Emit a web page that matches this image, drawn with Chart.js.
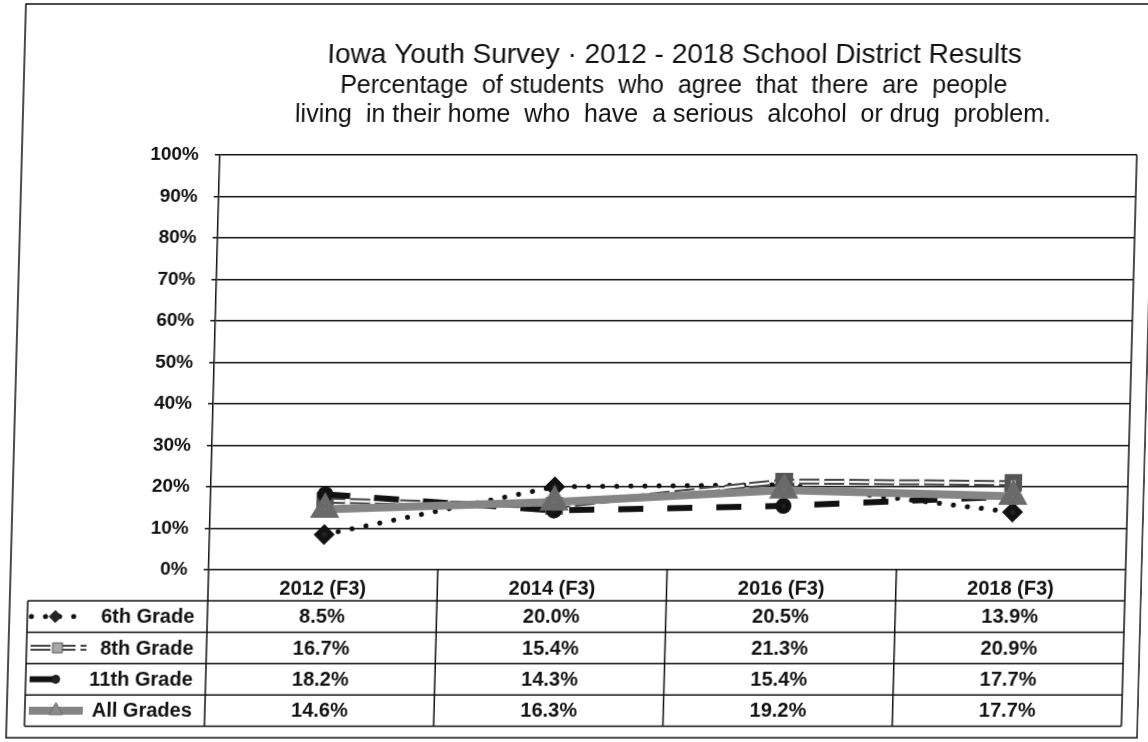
<!DOCTYPE html>
<html lang="en">
<head>
    <meta charset="UTF-8">
    <title>Iowa Youth Survey 2012 - 2018 School District Results</title>
    <script src="https://cdn.jsdelivr.net/npm/chart.js"></script>
    <style>
        html, body { margin: 0; padding: 0; background: #fff; overflow: hidden; }
        /* the scanned original leans a little, so the whole sheet is skewed the same way */
        #hoja { width: 1148px; height: 742px; transform: skewX(-1.55deg); transform-origin: 0 371px; }
    </style>
</head>
<body>
    <div id="hoja"><canvas id="grafico" width="1148" height="742"></canvas></div>

    <script>
        const titleLines = [
            "Iowa Youth Survey \u00b7 2012 - 2018 School District Results",
            "Percentage  of students  who  agree  that  there  are  people",
            "living  in their home  who  have  a serious  alcohol  or drug  problem."
        ];
        const years = ["2012 (F3)", "2014 (F3)", "2016 (F3)", "2018 (F3)"];
        const gradeNames = ["6th Grade", "8th Grade", "11th Grade", "All Grades"];
        const sixth = [8.5, 20.0, 20.5, 13.9];
        const eighth = [16.7, 15.4, 21.3, 20.9];
        const eleventh = [18.2, 14.3, 15.4, 17.7];
        const allGrades = [14.6, 16.3, 19.2, 17.7];

        const fuente = "'Liberation Sans', Arial, sans-serif";
        const tinta = "#111";

        // white stroke inside the 8th grade dashes gives the double line look
        function lineaDoble(ctx, puntos, ds) {
            ctx.save();
            ctx.beginPath();
            puntos.forEach((p, i) => i ? ctx.lineTo(p.x, p.y) : ctx.moveTo(p.x, p.y));
            ctx.setLineDash(ds.borderDash);
            ctx.lineWidth = 2;
            ctx.strokeStyle = "#fff";
            ctx.stroke();
            ctx.restore();
        }

        const tablaDatos = {
            id: "tablaDatos",
            afterDatasetDraw(chart, args) {
                const ds = chart.data.datasets[args.index];
                if (!ds.doble) return;
                const ctx = chart.ctx;
                ctx.save();
                ctx.beginPath();
                ctx.rect(chart.chartArea.left, chart.chartArea.top, chart.chartArea.width, chart.chartArea.height);
                ctx.clip();
                lineaDoble(ctx, args.meta.data, ds);
                ctx.restore();
                args.meta.data.forEach(p => p.draw(ctx, chart.chartArea));
            },
            afterDraw(chart) {
                const ctx = chart.ctx;
                const area = chart.chartArea;
                const x = chart.scales.x;

                // title
                ctx.save();
                ctx.fillStyle = tinta;
                ctx.textAlign = "center";
                ctx.textBaseline = "alphabetic";
                const baselines = [63, 93, 122];
                titleLines.forEach((t, i) => {
                    ctx.font = (i === 0 ? "28px " : "25px ") + fuente;
                    ctx.fillText(t, 666, baselines[i]);
                });

                // outer frame
                ctx.strokeStyle = tinta;
                ctx.lineWidth = 1.5;
                ctx.strokeRect(16, 4, 1131, 734);

                // data table
                const tablaIzq = 34;
                const filaAlto = 31.4;
                const filaTop = area.bottom + 31;
                const tablaFondo = filaTop + filaAlto * gradeNames.length;
                const colAncho = area.width / years.length;

                ctx.beginPath();
                for (let k = 0; k <= gradeNames.length; k++) {
                    const y = filaTop + k * filaAlto;
                    ctx.moveTo(tablaIzq, y);
                    ctx.lineTo(area.right, y);
                }
                ctx.moveTo(tablaIzq, filaTop);
                ctx.lineTo(tablaIzq, tablaFondo);
                ctx.moveTo(area.left, area.bottom);
                ctx.lineTo(area.left, tablaFondo);
                for (let k = 1; k < years.length; k++) {
                    ctx.moveTo(area.left + k * colAncho, area.bottom);
                    ctx.lineTo(area.left + k * colAncho, tablaFondo);
                }
                ctx.moveTo(area.right, area.top);
                ctx.lineTo(area.right, tablaFondo);
                ctx.stroke();

                ctx.font = "bold 20px " + fuente;
                ctx.textBaseline = "middle";
                chart.data.datasets.forEach((ds, r) => {
                    const yc = filaTop + (r + 0.5) * filaAlto + 1;
                    ctx.fillStyle = tinta;
                    ctx.textAlign = "center";
                    ds.data.forEach((v, i) => ctx.fillText(v.toFixed(1) + "%", x.getPixelForTick(i), yc));
                    ctx.textAlign = "right";
                    ctx.fillText(ds.label, area.left - 13, yc);

                    // legend key
                    const x0 = tablaIzq + 4, x1 = x0 + ds.clave.largo, ym = yc - 1;
                    ctx.save();
                    ctx.beginPath();
                    ctx.moveTo(x0, ym);
                    ctx.lineTo(x1, ym);
                    ctx.strokeStyle = ds.borderColor;
                    ctx.lineWidth = ds.borderWidth;
                    ctx.lineCap = ds.borderCapStyle || "butt";
                    ctx.setLineDash(ds.borderDash || []);
                    ctx.stroke();
                    ctx.restore();
                    if (ds.doble) lineaDoble(ctx, [{ x: x0, y: ym }, { x: x1, y: ym }], ds);
                    ctx.save();
                    ctx.fillStyle = ds.pointBackgroundColor;
                    ctx.strokeStyle = ds.pointBorderColor;
                    ctx.lineWidth = 1;
                    Chart.helpers.drawPoint(ctx, { pointStyle: ds.pointStyle, radius: ds.pointRadius - 1, rotation: 0, borderWidth: 1 }, x0 + ds.clave.marca, ym);
                    ctx.restore();
                });
                ctx.restore();
            }
        };

        new Chart(document.getElementById("grafico"), {
            type: "line",
            data: {
                labels: years,
                datasets: [
                    {
                        label: gradeNames[0], data: sixth, order: 4, clave: { largo: 50, marca: 24 },
                        borderColor: "#111", borderWidth: 5, borderDash: [0.1, 14], borderCapStyle: "round",
                        pointStyle: "rectRot", pointRadius: 7, pointBackgroundColor: "#222", pointBorderColor: "#111"
                    },
                    {
                        label: gradeNames[1], data: eighth, order: 3, doble: true, clave: { largo: 56, marca: 27 },
                        borderColor: "#454545", borderWidth: 6, borderDash: [20, 5],
                        pointStyle: "rect", pointRadius: 8, pointBackgroundColor: "#a8a8a8", pointBorderColor: "#555"
                    },
                    {
                        label: gradeNames[2], data: eleventh, order: 2, clave: { largo: 24, marca: 26 },
                        borderColor: "#111", borderWidth: 6, borderDash: [25, 24],
                        pointStyle: "circle", pointRadius: 5, pointBackgroundColor: "#222", pointBorderColor: "#111"
                    },
                    {
                        label: gradeNames[3], data: allGrades, order: 1, clave: { largo: 54, marca: 27 },
                        borderColor: "#858585", borderWidth: 8,
                        pointStyle: "triangle", pointRadius: 9, pointBackgroundColor: "#8a8a8a", pointBorderColor: "#6a6a6a"
                    }
                ]
            },
            options: {
                responsive: false,
                animation: false,
                layout: { padding: { top: 155, right: 13, left: 0, bottom: 0 } },
                plugins: {
                    legend: { display: false },
                    title: { display: false },
                    tooltip: { enabled: false }
                },
                elements: { line: { tension: 0 }, point: { borderWidth: 1 } },
                scales: {
                    x: {
                        offset: true,
                        grid: { display: false },
                        border: { display: false },
                        ticks: { color: tinta, padding: -1, font: { family: fuente, size: 20, weight: "bold" } },
                        afterFit(s) { s.height = 172; }
                    },
                    y: {
                        min: 0,
                        max: 100,
                        ticks: {
                            stepSize: 10,
                            color: tinta,
                            padding: 16,
                            font: { family: fuente, size: 19, weight: "bold" },
                            callback: v => v + "%"
                        },
                        grid: { color: tinta, lineWidth: 1.5, tickLength: 5 },
                        border: { color: tinta, width: 1.5 },
                        afterFit(s) { s.width = 214; }
                    }
                }
            },
            plugins: [tablaDatos]
        });
    </script>
</body>
</html>
